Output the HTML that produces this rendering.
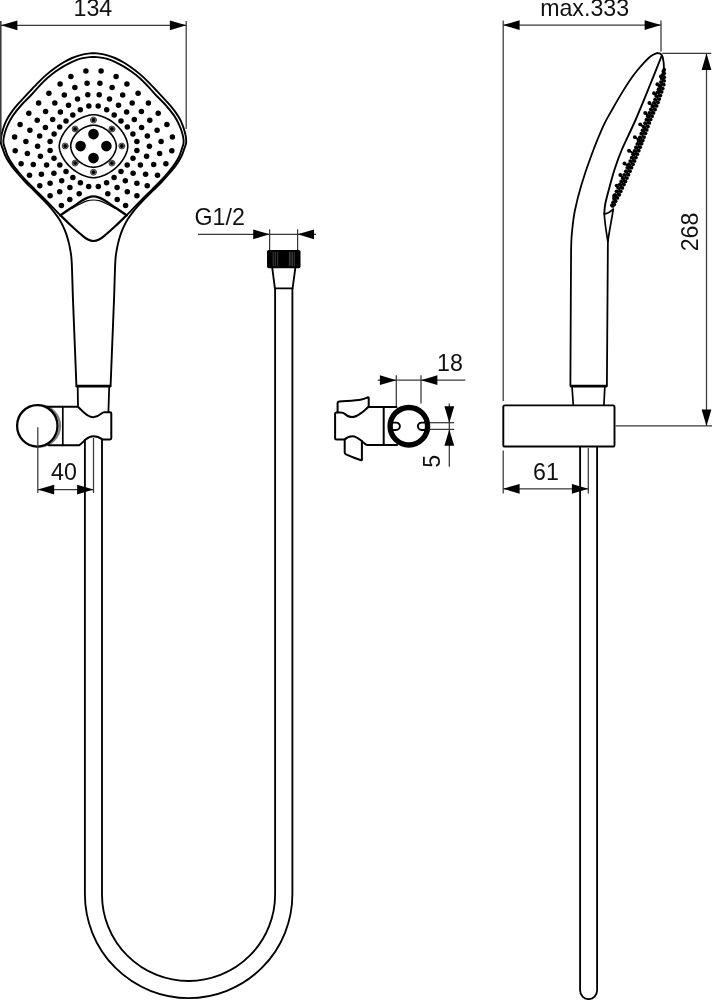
<!DOCTYPE html>
<html lang="en">
<head>
<meta charset="utf-8">
<title>Hand shower set - dimensional drawing</title>
<style>
html,body{margin:0;padding:0;background:#fff;}
body{width:712px;height:1000px;overflow:hidden;}
svg{display:block;will-change:transform;}
text{font-family:"Liberation Sans",Arial,Helvetica,sans-serif;fill:#111;}
</style>
</head>
<body>
<svg width="712" height="1000" viewBox="0 0 712 1000" stroke-linejoin="round" stroke-linecap="round">
<rect width="712" height="1000" fill="#fff"/>
<path d="M76.4,385.5C76.17,379.58 75.57,364.25 75,350C74.43,335.75 73.55,314.67 73,300C72.45,285.33 72.17,270.42 71.7,262C71.23,253.58 70.72,252.83 70.2,249.5C69.68,246.17 69.27,244.6 68.6,242C67.93,239.4 67.13,236.53 66.2,233.9C65.27,231.27 64.15,228.65 63,226.2C61.85,223.75 60.72,221.47 59.3,219.2C57.88,216.93 56.18,214.77 54.5,212.6C52.82,210.43 51.03,208.3 49.2,206.2C47.37,204.1 46.07,202.63 43.5,200C40.93,197.37 36.82,193.4 33.8,190.4C30.77,187.4 28.03,184.82 25.35,182C22.67,179.18 20.07,176.27 17.7,173.5C15.32,170.73 13.08,168.18 11.1,165.4C9.12,162.62 7.2,159.58 5.8,156.8C4.4,154.02 3.51,150.92 2.7,148.7C1.89,146.48 1.26,144.95 0.95,143.5C0.64,142.05 0.78,141.33 0.85,140C0.92,138.67 1.01,137.4 1.4,135.5C1.79,133.6 2.4,131.03 3.2,128.6C4,126.17 4.98,123.4 6.2,120.9C7.42,118.4 8.73,116.18 10.5,113.6C12.27,111.02 14.63,107.97 16.8,105.4C18.97,102.83 21.3,100.57 23.5,98.2C25.7,95.83 27.52,93.83 30,91.2C32.48,88.57 35.6,85.2 38.4,82.4C41.2,79.6 43.98,76.85 46.8,74.4C49.62,71.95 52.48,69.73 55.3,67.7C58.12,65.67 60.9,63.82 63.7,62.2C66.5,60.58 69.3,59.18 72.1,58C74.9,56.82 77.52,55.87 80.5,55.1C83.48,54.33 87.83,53.7 90,53.4C92.17,53.1 92.33,53.3 93.5,53.3C94.67,53.3 94.83,53.1 97,53.4C99.17,53.7 103.52,54.33 106.5,55.1C109.48,55.87 112.1,56.82 114.9,58C117.7,59.18 120.5,60.58 123.3,62.2C126.1,63.82 128.88,65.67 131.7,67.7C134.52,69.73 137.38,71.95 140.2,74.4C143.02,76.85 145.8,79.6 148.6,82.4C151.4,85.2 154.52,88.57 157,91.2C159.48,93.83 161.3,95.83 163.5,98.2C165.7,100.57 168.03,102.83 170.2,105.4C172.37,107.97 174.73,111.02 176.5,113.6C178.27,116.18 179.58,118.4 180.8,120.9C182.02,123.4 183,126.17 183.8,128.6C184.6,131.03 185.21,133.6 185.6,135.5C185.99,137.4 186.07,138.67 186.15,140C186.23,141.33 186.36,142.05 186.05,143.5C185.74,144.95 185.11,146.48 184.3,148.7C183.49,150.92 182.6,154.02 181.2,156.8C179.8,159.58 177.88,162.62 175.9,165.4C173.92,168.18 171.68,170.73 169.3,173.5C166.93,176.27 164.33,179.18 161.65,182C158.97,184.82 156.22,187.4 153.2,190.4C150.17,193.4 146.07,197.37 143.5,200C140.93,202.63 139.63,204.1 137.8,206.2C135.97,208.3 134.18,210.43 132.5,212.6C130.82,214.77 129.12,216.93 127.7,219.2C126.28,221.47 125.15,223.75 124,226.2C122.85,228.65 121.73,231.27 120.8,233.9C119.87,236.53 119.07,239.4 118.4,242C117.73,244.6 117.32,246.17 116.8,249.5C116.28,252.83 115.77,253.58 115.3,262C114.83,270.42 114.55,285.33 114,300C113.45,314.67 112.57,335.75 112,350C111.43,364.25 110.83,379.58 110.6,385.5" fill="none" stroke="#000" stroke-width="1.9" />
<path d="M60.4,215.3C59.08,213.95 55.15,209.92 52.5,207.2C49.85,204.48 47.45,201.97 44.5,199C41.55,196.03 37.81,192.4 34.8,189.4C31.79,186.4 29.1,183.82 26.45,181C23.8,178.18 21.22,175.27 18.9,172.5C16.57,169.73 14.38,167.15 12.5,164.4C10.62,161.65 8.87,158.72 7.6,156C6.33,153.28 5.57,150.1 4.9,148.1C4.23,146.1 3.85,145.35 3.6,144C3.35,142.65 3.2,141.83 3.4,140C3.6,138.17 4.07,135.53 4.8,133C5.53,130.47 6.45,127.7 7.8,124.8C9.15,121.9 10.63,118.9 12.9,115.6C15.17,112.3 18.5,108.27 21.4,105C24.3,101.73 27.42,99.05 30.3,96C33.18,92.95 35.9,89.65 38.7,86.7C41.5,83.75 44.28,80.82 47.1,78.3C49.92,75.78 52.8,73.63 55.6,71.6C58.4,69.57 61.15,67.73 63.9,66.1C66.65,64.47 69.33,63.03 72.1,61.8C74.87,60.57 77.52,59.48 80.5,58.7C83.48,57.92 87.83,57.38 90,57.1C92.17,56.82 92.33,57 93.5,57C94.67,57 94.83,56.82 97,57.1C99.17,57.38 103.52,57.92 106.5,58.7C109.48,59.48 112.13,60.57 114.9,61.8C117.67,63.03 120.35,64.47 123.1,66.1C125.85,67.73 128.6,69.57 131.4,71.6C134.2,73.63 137.08,75.78 139.9,78.3C142.72,80.82 145.5,83.75 148.3,86.7C151.1,89.65 153.82,92.95 156.7,96C159.58,99.05 162.7,101.73 165.6,105C168.5,108.27 171.83,112.3 174.1,115.6C176.37,118.9 177.85,121.9 179.2,124.8C180.55,127.7 181.47,130.47 182.2,133C182.93,135.53 183.4,138.17 183.6,140C183.8,141.83 183.65,142.65 183.4,144C183.15,145.35 182.77,146.1 182.1,148.1C181.43,150.1 180.67,153.28 179.4,156C178.13,158.72 176.38,161.65 174.5,164.4C172.62,167.15 170.42,169.73 168.1,172.5C165.78,175.27 163.2,178.18 160.55,181C157.9,183.82 155.21,186.4 152.2,189.4C149.19,192.4 145.45,196.03 142.5,199C139.55,201.97 137.15,204.48 134.5,207.2C131.85,209.92 127.92,213.95 126.6,215.3" fill="none" stroke="#000" stroke-width="1.9" />
<path d="M60.4,215.3C62.25,214.05 67.8,210.3 71.5,207.8C75.2,205.3 79.88,202 82.6,200.3C85.32,198.6 85.98,198.25 87.8,197.6C89.62,196.95 91.6,196.4 93.5,196.4C95.4,196.4 97.38,196.95 99.2,197.6C101.02,198.25 101.68,198.6 104.4,200.3C107.12,202 111.8,205.3 115.5,207.8C119.2,210.3 124.75,214.05 126.6,215.3" fill="none" stroke="#000" stroke-width="2.4" />
<path d="M72,208.4C73.33,207.67 77.5,205.25 80,204C82.5,202.75 84.75,201.57 87,200.9C89.25,200.23 91.33,200 93.5,200C95.67,200 97.75,200.23 100,200.9C102.25,201.57 104.5,202.75 107,204C109.5,205.25 113.67,207.67 115,208.4" fill="none" stroke="#000" stroke-width="1.1" />
<path d="M60.4,215.3C62.17,217 67.45,222.22 71,225.5C74.55,228.78 78.87,232.65 81.7,235C84.53,237.35 86.03,238.6 88,239.6C89.97,240.6 91.67,241 93.5,241C95.33,241 97.03,240.6 99,239.6C100.97,238.6 102.47,237.35 105.3,235C108.13,232.65 112.45,228.78 116,225.5C119.55,222.22 124.83,217 126.6,215.3" fill="none" stroke="#000" stroke-width="2.2" />
<g fill="#000">
<circle cx="85.9" cy="71.1" r="2.75" fill="#000"/>
<circle cx="101.1" cy="71.1" r="2.75" fill="#000"/>
<circle cx="70.9" cy="76.4" r="2.75" fill="#000"/>
<circle cx="116.1" cy="76.4" r="2.75" fill="#000"/>
<circle cx="60.1" cy="84.1" r="2.75" fill="#000"/>
<circle cx="126.9" cy="84.1" r="2.75" fill="#000"/>
<circle cx="48.9" cy="93.3" r="2.75" fill="#000"/>
<circle cx="138.1" cy="93.3" r="2.75" fill="#000"/>
<circle cx="38.6" cy="103.1" r="2.75" fill="#000"/>
<circle cx="148.4" cy="103.1" r="2.75" fill="#000"/>
<circle cx="28.8" cy="113.2" r="2.75" fill="#000"/>
<circle cx="158.2" cy="113.2" r="2.75" fill="#000"/>
<circle cx="20.1" cy="124.4" r="2.75" fill="#000"/>
<circle cx="166.9" cy="124.4" r="2.75" fill="#000"/>
<circle cx="14.6" cy="137" r="2.75" fill="#000"/>
<circle cx="172.4" cy="137" r="2.75" fill="#000"/>
<circle cx="15.2" cy="150.8" r="2.75" fill="#000"/>
<circle cx="171.8" cy="150.8" r="2.75" fill="#000"/>
<circle cx="21.1" cy="163.7" r="2.75" fill="#000"/>
<circle cx="165.9" cy="163.7" r="2.75" fill="#000"/>
<circle cx="29.5" cy="175.2" r="2.75" fill="#000"/>
<circle cx="157.5" cy="175.2" r="2.75" fill="#000"/>
<circle cx="39.8" cy="185.8" r="2.75" fill="#000"/>
<circle cx="147.2" cy="185.8" r="2.75" fill="#000"/>
<circle cx="50.1" cy="195.7" r="2.75" fill="#000"/>
<circle cx="136.9" cy="195.7" r="2.75" fill="#000"/>
<circle cx="61.4" cy="205.6" r="2.75" fill="#000"/>
<circle cx="125.6" cy="205.6" r="2.75" fill="#000"/>
<circle cx="87.1" cy="83.3" r="2.75" fill="#000"/>
<circle cx="99.9" cy="83.3" r="2.75" fill="#000"/>
<circle cx="74.9" cy="87.6" r="2.75" fill="#000"/>
<circle cx="112.1" cy="87.6" r="2.75" fill="#000"/>
<circle cx="64.3" cy="94.9" r="2.75" fill="#000"/>
<circle cx="122.7" cy="94.9" r="2.75" fill="#000"/>
<circle cx="54.8" cy="102.9" r="2.75" fill="#000"/>
<circle cx="132.2" cy="102.9" r="2.75" fill="#000"/>
<circle cx="45.6" cy="111.4" r="2.75" fill="#000"/>
<circle cx="141.4" cy="111.4" r="2.75" fill="#000"/>
<circle cx="37.2" cy="120.2" r="2.75" fill="#000"/>
<circle cx="149.8" cy="120.2" r="2.75" fill="#000"/>
<circle cx="29.9" cy="130.3" r="2.75" fill="#000"/>
<circle cx="157.1" cy="130.3" r="2.75" fill="#000"/>
<circle cx="25.9" cy="141.5" r="2.75" fill="#000"/>
<circle cx="161.1" cy="141.5" r="2.75" fill="#000"/>
<circle cx="27.4" cy="153.5" r="2.75" fill="#000"/>
<circle cx="159.6" cy="153.5" r="2.75" fill="#000"/>
<circle cx="33.3" cy="164.4" r="2.75" fill="#000"/>
<circle cx="153.7" cy="164.4" r="2.75" fill="#000"/>
<circle cx="41.4" cy="174.3" r="2.75" fill="#000"/>
<circle cx="145.6" cy="174.3" r="2.75" fill="#000"/>
<circle cx="50.1" cy="183.3" r="2.75" fill="#000"/>
<circle cx="136.9" cy="183.3" r="2.75" fill="#000"/>
<circle cx="59.7" cy="191.8" r="2.75" fill="#000"/>
<circle cx="127.3" cy="191.8" r="2.75" fill="#000"/>
<circle cx="69.8" cy="199.4" r="2.75" fill="#000"/>
<circle cx="117.2" cy="199.4" r="2.75" fill="#000"/>
<circle cx="87.8" cy="94.7" r="2.75" fill="#000"/>
<circle cx="99.2" cy="94.7" r="2.75" fill="#000"/>
<circle cx="77.5" cy="98.9" r="2.75" fill="#000"/>
<circle cx="109.5" cy="98.9" r="2.75" fill="#000"/>
<circle cx="68.5" cy="105.2" r="2.75" fill="#000"/>
<circle cx="118.5" cy="105.2" r="2.75" fill="#000"/>
<circle cx="60.4" cy="112.1" r="2.75" fill="#000"/>
<circle cx="126.6" cy="112.1" r="2.75" fill="#000"/>
<circle cx="52.7" cy="119.5" r="2.75" fill="#000"/>
<circle cx="134.3" cy="119.5" r="2.75" fill="#000"/>
<circle cx="45.4" cy="127.5" r="2.75" fill="#000"/>
<circle cx="141.6" cy="127.5" r="2.75" fill="#000"/>
<circle cx="39.7" cy="136.1" r="2.75" fill="#000"/>
<circle cx="147.3" cy="136.1" r="2.75" fill="#000"/>
<circle cx="37.6" cy="146.2" r="2.75" fill="#000"/>
<circle cx="149.4" cy="146.2" r="2.75" fill="#000"/>
<circle cx="40.4" cy="156.3" r="2.75" fill="#000"/>
<circle cx="146.6" cy="156.3" r="2.75" fill="#000"/>
<circle cx="46.6" cy="165.1" r="2.75" fill="#000"/>
<circle cx="140.4" cy="165.1" r="2.75" fill="#000"/>
<circle cx="53.9" cy="173.3" r="2.75" fill="#000"/>
<circle cx="133.1" cy="173.3" r="2.75" fill="#000"/>
<circle cx="61.7" cy="180.7" r="2.75" fill="#000"/>
<circle cx="125.3" cy="180.7" r="2.75" fill="#000"/>
<circle cx="69.9" cy="187.6" r="2.75" fill="#000"/>
<circle cx="117.1" cy="187.6" r="2.75" fill="#000"/>
<circle cx="79.2" cy="193.8" r="2.75" fill="#000"/>
<circle cx="107.8" cy="193.8" r="2.75" fill="#000"/>
<circle cx="88.8" cy="105.9" r="2.75" fill="#000"/>
<circle cx="98.2" cy="105.9" r="2.75" fill="#000"/>
<circle cx="80.3" cy="109.7" r="2.75" fill="#000"/>
<circle cx="106.7" cy="109.7" r="2.75" fill="#000"/>
<circle cx="72.8" cy="114.9" r="2.75" fill="#000"/>
<circle cx="114.2" cy="114.9" r="2.75" fill="#000"/>
<circle cx="66" cy="120.9" r="2.75" fill="#000"/>
<circle cx="121" cy="120.9" r="2.75" fill="#000"/>
<circle cx="59.7" cy="127" r="2.75" fill="#000"/>
<circle cx="127.3" cy="127" r="2.75" fill="#000"/>
<circle cx="54.1" cy="134" r="2.75" fill="#000"/>
<circle cx="132.9" cy="134" r="2.75" fill="#000"/>
<circle cx="50.1" cy="141.6" r="2.75" fill="#000"/>
<circle cx="136.9" cy="141.6" r="2.75" fill="#000"/>
<circle cx="50.1" cy="150.4" r="2.75" fill="#000"/>
<circle cx="136.9" cy="150.4" r="2.75" fill="#000"/>
<circle cx="54" cy="158.2" r="2.75" fill="#000"/>
<circle cx="133" cy="158.2" r="2.75" fill="#000"/>
<circle cx="59.8" cy="165.1" r="2.75" fill="#000"/>
<circle cx="127.2" cy="165.1" r="2.75" fill="#000"/>
<circle cx="66" cy="171.5" r="2.75" fill="#000"/>
<circle cx="121" cy="171.5" r="2.75" fill="#000"/>
<circle cx="72.9" cy="177.6" r="2.75" fill="#000"/>
<circle cx="114.1" cy="177.6" r="2.75" fill="#000"/>
<circle cx="80.4" cy="182.7" r="2.75" fill="#000"/>
<circle cx="106.6" cy="182.7" r="2.75" fill="#000"/>
<circle cx="88.7" cy="186.4" r="2.75" fill="#000"/>
<circle cx="98.3" cy="186.4" r="2.75" fill="#000"/>
</g>
<path d="M127.8,146.2L127.71,147.52L127.46,149.15L127.03,150.91L126.44,152.74L125.69,154.62L124.78,156.51L123.72,158.4L122.52,160.27L121.18,162.1L119.71,163.89L118.12,165.61L116.42,167.25L114.63,168.81L112.76,170.27L110.82,171.62L108.82,172.85L106.78,173.96L104.73,174.93L102.67,175.76L100.62,176.46L98.63,177L96.71,177.39L94.94,177.62L93.5,177.7L92.06,177.62L90.29,177.39L88.37,177L86.38,176.46L84.33,175.76L82.27,174.93L80.22,173.96L78.18,172.85L76.18,171.62L74.24,170.27L72.37,168.81L70.58,167.25L68.88,165.61L67.29,163.89L65.82,162.1L64.48,160.27L63.28,158.4L62.22,156.51L61.31,154.62L60.56,152.74L59.97,150.91L59.54,149.15L59.29,147.52L59.2,146.2L59.29,144.88L59.54,143.25L59.97,141.49L60.56,139.66L61.31,137.78L62.22,135.89L63.28,134L64.48,132.13L65.82,130.3L67.29,128.51L68.88,126.79L70.58,125.15L72.37,123.59L74.24,122.13L76.18,120.78L78.18,119.55L80.22,118.44L82.27,117.47L84.33,116.64L86.38,115.94L88.37,115.4L90.29,115.01L92.06,114.78L93.5,114.7L94.94,114.78L96.71,115.01L98.63,115.4L100.62,115.94L102.67,116.64L104.73,117.47L106.78,118.44L108.82,119.55L110.82,120.78L112.76,122.13L114.63,123.59L116.42,125.15L118.12,126.79L119.71,128.51L121.18,130.3L122.52,132.13L123.72,134L124.78,135.89L125.69,137.78L126.44,139.66L127.03,141.49L127.46,143.25L127.71,144.88Z" fill="none" stroke="#000" stroke-width="1.6" />
<path d="M116.3,146.2L116.25,147.21L116.08,148.39L115.81,149.62L115.44,150.88L114.96,152.15L114.38,153.42L113.7,154.68L112.93,155.92L112.07,157.13L111.13,158.3L110.11,159.42L109.01,160.49L107.85,161.5L106.64,162.44L105.37,163.31L104.05,164.1L102.71,164.81L101.34,165.43L99.96,165.97L98.58,166.41L97.21,166.75L95.87,167L94.6,167.15L93.5,167.2L92.4,167.15L91.13,167L89.79,166.75L88.42,166.41L87.04,165.97L85.66,165.43L84.29,164.81L82.95,164.1L81.63,163.31L80.36,162.44L79.15,161.5L77.99,160.49L76.89,159.42L75.87,158.3L74.93,157.13L74.07,155.92L73.3,154.68L72.62,153.42L72.04,152.15L71.56,150.88L71.19,149.62L70.92,148.39L70.75,147.21L70.7,146.2L70.75,145.19L70.92,144.01L71.19,142.78L71.56,141.52L72.04,140.25L72.62,138.98L73.3,137.72L74.07,136.48L74.93,135.27L75.87,134.1L76.89,132.98L77.99,131.91L79.15,130.9L80.36,129.96L81.63,129.09L82.95,128.3L84.29,127.59L85.66,126.97L87.04,126.43L88.42,125.99L89.79,125.65L91.13,125.4L92.4,125.25L93.5,125.2L94.6,125.25L95.87,125.4L97.21,125.65L98.58,125.99L99.96,126.43L101.34,126.97L102.71,127.59L104.05,128.3L105.37,129.09L106.64,129.96L107.85,130.9L109.01,131.91L110.11,132.98L111.13,134.1L112.07,135.27L112.93,136.48L113.7,137.72L114.38,138.98L114.96,140.25L115.44,141.52L115.81,142.78L116.08,144.01L116.25,145.19Z" fill="none" stroke="#000" stroke-width="1.6" />
<circle cx="93.5" cy="134.1" r="5.3" fill="#000"/>
<circle cx="93.5" cy="158.1" r="5.3" fill="#000"/>
<circle cx="80.6" cy="146.1" r="5.3" fill="#000"/>
<circle cx="106.4" cy="146.1" r="5.3" fill="#000"/>
<circle cx="93.5" cy="120" r="3" fill="#8c8c8c" stroke="#3a3a3a" stroke-width="0.9"/>
<circle cx="93.5" cy="120" r="1.9" fill="#000"/>
<circle cx="93.5" cy="172.2" r="3" fill="#8c8c8c" stroke="#3a3a3a" stroke-width="0.9"/>
<circle cx="93.5" cy="172.2" r="1.9" fill="#000"/>
<circle cx="65.2" cy="146" r="3" fill="#8c8c8c" stroke="#3a3a3a" stroke-width="0.9"/>
<circle cx="65.2" cy="146" r="1.9" fill="#000"/>
<circle cx="121.8" cy="146" r="3" fill="#8c8c8c" stroke="#3a3a3a" stroke-width="0.9"/>
<circle cx="121.8" cy="146" r="1.9" fill="#000"/>
<circle cx="75.1" cy="129" r="3" fill="#8c8c8c" stroke="#3a3a3a" stroke-width="0.9"/>
<circle cx="75.1" cy="129" r="1.9" fill="#000"/>
<circle cx="111.9" cy="129" r="3" fill="#8c8c8c" stroke="#3a3a3a" stroke-width="0.9"/>
<circle cx="111.9" cy="129" r="1.9" fill="#000"/>
<circle cx="75.1" cy="163.1" r="3" fill="#8c8c8c" stroke="#3a3a3a" stroke-width="0.9"/>
<circle cx="75.1" cy="163.1" r="1.9" fill="#000"/>
<circle cx="111.9" cy="163.1" r="3" fill="#8c8c8c" stroke="#3a3a3a" stroke-width="0.9"/>
<circle cx="111.9" cy="163.1" r="1.9" fill="#000"/>
<line x1="76.9" y1="386.2" x2="110" y2="386.2" stroke="#000" stroke-width="2.8"/>
<path d="M77.7,387.5 L78.0,406.7" fill="none" stroke="#000" stroke-width="1.8" />
<path d="M109.2,387.5 L108.4,412.2" fill="none" stroke="#000" stroke-width="1.8" />
<circle cx="39.3" cy="425.8" r="20.7" fill="none" stroke="#808080" stroke-width="2.2"/>
<ellipse cx="37.3" cy="425.8" rx="20.2" ry="20.75" fill="#fff" stroke="#000" stroke-width="2.3"/>
<path d="M47.5,406.7 H78.0 C80.0,408.6 82.0,410.8 84.5,413.0 C87.5,415.6 90.3,417.2 93.4,417.2 C96.5,417.2 98.8,415.6 100.8,414.0 C102.0,413.0 102.8,412.2 104.2,412.2 H110.0 Q111.3,412.2 111.3,413.5 V438.1 Q111.3,439.4 110.0,439.4 H102.4 C99.6,437.2 96.6,436.2 93.4,436.2 C90.0,436.2 87.6,437.8 85.6,439.6 C83.4,441.6 81.5,443.6 79.2,445.3 H48.5" fill="none" stroke="#000" stroke-width="2" />
<line x1="62.8" y1="406.7" x2="62.8" y2="445.3" stroke="#000" stroke-width="1.7"/>
<path d="M84.9,440 V894.35 A103.75,103.75 0 0 0 292.4,894.35 V288.3" fill="none" stroke="#000" stroke-width="1.85" />
<path d="M102.0,440 V894.45 A86.55,86.55 0 0 0 275.1,894.45 V288.3" fill="none" stroke="#000" stroke-width="1.85" />
<rect x="267" y="250" width="33.5" height="18.3" rx="1.8" fill="#000"/>
<line x1="273.2" y1="252.2" x2="273.2" y2="265.8" stroke="#8a8a8a" stroke-width="0.45"/>
<line x1="275.3" y1="252.2" x2="275.3" y2="265.8" stroke="#8a8a8a" stroke-width="0.45"/>
<line x1="277.7" y1="252.2" x2="277.7" y2="265.8" stroke="#8a8a8a" stroke-width="0.45"/>
<line x1="289.4" y1="252.2" x2="289.4" y2="265.8" stroke="#8a8a8a" stroke-width="0.45"/>
<line x1="290.9" y1="252.2" x2="290.9" y2="265.8" stroke="#8a8a8a" stroke-width="0.45"/>
<line x1="292.4" y1="252.2" x2="292.4" y2="265.8" stroke="#8a8a8a" stroke-width="0.45"/>
<line x1="294.3" y1="252.2" x2="294.3" y2="265.8" stroke="#8a8a8a" stroke-width="0.45"/>
<path d="M272.3,268.2 L274.9,288.3 H292.6 L295.3,268.2" fill="none" stroke="#000" stroke-width="1.85" />
<circle cx="408.85" cy="426.2" r="18.75" fill="none" stroke="#000" stroke-width="5.4"/>
<path d="M391.5,422.6 H396.2 A3.7,3.7 0 0 1 396.2,430.0 H391.5" fill="none" stroke="#000" stroke-width="1.9" />
<path d="M426.3,422.6 H421.6 A3.7,3.7 0 0 0 421.6,430.0 H426.3" fill="none" stroke="#000" stroke-width="1.9" />
<line x1="368.6" y1="406.9" x2="396.5" y2="406.9" stroke="#000" stroke-width="2"/>
<line x1="367.5" y1="445.1" x2="397" y2="445.1" stroke="#000" stroke-width="2"/>
<line x1="383.7" y1="406.9" x2="383.7" y2="445.1" stroke="#000" stroke-width="2"/>
<path d="M368.6,406.9 C365.5,409.3 363.5,411.4 361.0,413.1 C355.5,417.4 349.5,418.6 345.0,414.0 C343.5,412.6 342.5,412.4 340.5,412.4 H336.6 Q335.1,412.4 335.1,413.9 V438.0 Q335.1,439.5 336.6,439.5 H344.7 C346.5,437.6 349.5,436.2 352.5,436.2 C356.0,436.2 359.5,439.2 362.0,441.2 C364.0,442.8 365.5,445.1 367.5,445.1" fill="none" stroke="#000" stroke-width="2" />
<path d="M337.6,412.2 V403.4 Q337.6,401.7 339.4,401.5 C347.0,400.8 355.0,400.6 361.5,399.4 C364.5,398.8 366.5,397.8 368.0,397.3 Q368.7,397.2 368.7,398.0 V406.9" fill="none" stroke="#000" stroke-width="2" />
<path d="M344.7,439.5 V452.6 Q344.7,453.8 346.0,454.4 C351.0,456.6 356.0,458.8 361.2,460.2 Q361.9,460.3 361.9,459.4 V441.2" fill="none" stroke="#000" stroke-width="2" />
<path d="M657.4,53.2C656.77,53.42 655.02,53.75 653.6,54.5C652.18,55.25 650.63,56.18 648.9,57.7C647.17,59.22 645.08,61.55 643.2,63.6C641.32,65.65 639.47,67.72 637.6,70C635.73,72.28 634.32,73.98 632,77.3C629.68,80.62 626.95,84.62 623.7,89.9C620.45,95.18 615.85,103.08 612.5,109C609.15,114.92 607.1,117.73 603.6,125.4C600.1,133.07 595.22,145.03 591.5,155C587.78,164.97 584.08,175.87 581.3,185.2C578.52,194.53 576.35,203.2 574.8,211C573.25,218.8 572.62,225.5 572,232C571.38,238.5 571.3,238.67 571.1,250C570.9,261.33 570.92,277.45 570.8,300C570.68,322.55 570.47,371.08 570.4,385.3" fill="none" stroke="#000" stroke-width="1.8" />
<path d="M657.4,53.1 C660.5,53.0 662.2,55.0 662.8,57.5 C663.6,61.0 664.0,64.5 664.0,69.0" fill="none" stroke="#000" stroke-width="1.8" />
<path d="M661.4,56.5C659.5,61.25 654.32,74.42 650,85C645.68,95.58 640.25,109.08 635.5,120C630.75,130.92 625.02,142.17 621.5,150.5C617.98,158.83 616.38,163.95 614.4,170C612.42,176.05 611.12,181.18 609.6,186.8C608.08,192.42 606.18,199.2 605.3,203.7C604.42,208.2 604.47,212.12 604.3,213.8" fill="none" stroke="#000" stroke-width="1.9" />
<path d="M604.4,214.0 Q609.0,213.4 613.0,209.4" fill="none" stroke="#000" stroke-width="1.6" />
<path d="M604.3,213.8 C604.6,222.0 606.3,232.0 607.7,240.8" fill="none" stroke="#000" stroke-width="1.7" />
<path d="M613.3,209.0 C611.8,219.0 609.4,230.0 608.0,240.8" fill="none" stroke="#000" stroke-width="1.7" />
<line x1="607.9" y1="240.6" x2="606.9" y2="385.3" stroke="#000" stroke-width="1.8"/>
<line x1="571.2" y1="386.2" x2="606.2" y2="386.2" stroke="#000" stroke-width="2.7"/>
<line x1="572.1" y1="387.5" x2="573.3" y2="405.2" stroke="#000" stroke-width="1.7"/>
<line x1="604.8" y1="387.5" x2="603.9" y2="405.2" stroke="#000" stroke-width="1.7"/>
<path d="M663.9,69.5C663.62,71.75 663.08,78.75 662.2,83C661.32,87.25 659.8,91.33 658.6,95C657.4,98.67 656.17,102.08 655,105C653.83,107.92 652.73,109.92 651.6,112.5C650.47,115.08 649.63,116.83 648.2,120.5C646.77,124.17 644.87,129.58 643,134.5C641.13,139.42 639.07,144.92 637,150C634.93,155.08 632.77,160 630.6,165C628.43,170 625.93,175.75 624,180C622.07,184.25 620.5,187.17 619,190.5C617.5,193.83 616,197.25 615,200C614,202.75 613.33,205.83 613,207" fill="none" stroke="#000" stroke-width="1.6" stroke-linecap="butt"/>
<g fill="#000">
<circle cx="664.18" cy="69.71" r="1.9" fill="#000"/>
<circle cx="663.36" cy="71.43" r="1.9" fill="#000"/>
<circle cx="664.2" cy="73.36" r="1.9" fill="#000"/>
<circle cx="662.63" cy="75.01" r="1.9" fill="#000"/>
<circle cx="664.19" cy="77.19" r="1.9" fill="#000"/>
<circle cx="661.8" cy="78.72" r="1.9" fill="#000"/>
<circle cx="664.12" cy="80.78" r="1.9" fill="#000"/>
<circle cx="660.88" cy="82.11" r="1.9" fill="#000"/>
<circle cx="663.77" cy="84.7" r="1.9" fill="#000"/>
<circle cx="659.66" cy="85.59" r="1.9" fill="#000"/>
<circle cx="662.72" cy="88.55" r="1.9" fill="#000"/>
<circle cx="658.56" cy="89.18" r="1.9" fill="#000"/>
<circle cx="661.64" cy="91.9" r="1.9" fill="#000"/>
<circle cx="657.47" cy="92.41" r="1.9" fill="#000"/>
<circle cx="660.41" cy="95.59" r="1.9" fill="#000"/>
<circle cx="656.23" cy="96.12" r="1.9" fill="#000"/>
<circle cx="659.22" cy="99.11" r="1.9" fill="#000"/>
<circle cx="655.04" cy="99.56" r="1.9" fill="#000"/>
<circle cx="658.03" cy="102.42" r="1.9" fill="#000"/>
<circle cx="653.84" cy="102.79" r="1.9" fill="#000"/>
<circle cx="656.68" cy="105.93" r="1.9" fill="#000"/>
<circle cx="652.48" cy="106.18" r="1.9" fill="#000"/>
<circle cx="655.09" cy="109.51" r="1.9" fill="#000"/>
<circle cx="650.89" cy="109.51" r="1.9" fill="#000"/>
<circle cx="653.5" cy="112.89" r="1.9" fill="#000"/>
<circle cx="649.3" cy="112.98" r="1.9" fill="#000"/>
<circle cx="652.07" cy="116.14" r="1.9" fill="#000"/>
<circle cx="647.86" cy="116.26" r="1.9" fill="#000"/>
<circle cx="650.66" cy="119.45" r="1.9" fill="#000"/>
<circle cx="646.46" cy="119.69" r="1.9" fill="#000"/>
<circle cx="649.3" cy="122.93" r="1.9" fill="#000"/>
<circle cx="645.11" cy="123.27" r="1.9" fill="#000"/>
<circle cx="647.94" cy="126.6" r="1.9" fill="#000"/>
<circle cx="643.75" cy="126.99" r="1.9" fill="#000"/>
<circle cx="646.73" cy="129.9" r="1.9" fill="#000"/>
<circle cx="642.55" cy="130.29" r="1.9" fill="#000"/>
<circle cx="645.48" cy="133.3" r="1.9" fill="#000"/>
<circle cx="641.29" cy="133.66" r="1.9" fill="#000"/>
<circle cx="644.07" cy="137.04" r="1.9" fill="#000"/>
<circle cx="639.88" cy="137.38" r="1.9" fill="#000"/>
<circle cx="642.75" cy="140.51" r="1.9" fill="#000"/>
<circle cx="638.56" cy="140.84" r="1.9" fill="#000"/>
<circle cx="641.54" cy="143.66" r="1.9" fill="#000"/>
<circle cx="637.35" cy="143.97" r="1.9" fill="#000"/>
<circle cx="640.16" cy="147.21" r="1.9" fill="#000"/>
<circle cx="635.97" cy="147.5" r="1.9" fill="#000"/>
<circle cx="638.76" cy="150.71" r="1.9" fill="#000"/>
<circle cx="634.56" cy="150.95" r="1.9" fill="#000"/>
<circle cx="637.34" cy="154.14" r="1.9" fill="#000"/>
<circle cx="633.14" cy="154.33" r="1.9" fill="#000"/>
<circle cx="635.9" cy="157.53" r="1.9" fill="#000"/>
<circle cx="631.7" cy="157.69" r="1.9" fill="#000"/>
<circle cx="634.45" cy="160.9" r="1.9" fill="#000"/>
<circle cx="630.25" cy="161.04" r="1.9" fill="#000"/>
<circle cx="632.99" cy="164.26" r="1.9" fill="#000"/>
<circle cx="628.79" cy="164.4" r="1.9" fill="#000"/>
<circle cx="631.52" cy="167.66" r="1.9" fill="#000"/>
<circle cx="627.31" cy="167.8" r="1.9" fill="#000"/>
<circle cx="629.98" cy="171.19" r="1.9" fill="#000"/>
<circle cx="625.78" cy="171.32" r="1.9" fill="#000"/>
<circle cx="628.44" cy="174.71" r="1.9" fill="#000"/>
<circle cx="624.24" cy="174.82" r="1.9" fill="#000"/>
<circle cx="626.96" cy="178.06" r="1.9" fill="#000"/>
<circle cx="622.75" cy="178.16" r="1.9" fill="#000"/>
<circle cx="625.44" cy="181.42" r="1.9" fill="#000"/>
<circle cx="621.24" cy="181.47" r="1.9" fill="#000"/>
<circle cx="623.93" cy="184.61" r="1.9" fill="#000"/>
<circle cx="619.73" cy="184.58" r="1.9" fill="#000"/>
<circle cx="622.32" cy="187.91" r="1.9" fill="#000"/>
<circle cx="618.12" cy="187.86" r="1.9" fill="#000"/>
<circle cx="620.73" cy="191.28" r="1.9" fill="#000"/>
<circle cx="616.53" cy="191.36" r="1.9" fill="#000"/>
<circle cx="619.19" cy="194.76" r="1.9" fill="#000"/>
<circle cx="614.98" cy="194.89" r="1.9" fill="#000"/>
<circle cx="617.32" cy="197.89" r="1.9" fill="#000"/>
<circle cx="614.04" cy="198.5" r="1.9" fill="#000"/>
<circle cx="615.61" cy="201.14" r="1.9" fill="#000"/>
<circle cx="613.23" cy="202.23" r="1.9" fill="#000"/>
<circle cx="614.18" cy="204.41" r="1.9" fill="#000"/>
<circle cx="612.76" cy="205.89" r="1.9" fill="#000"/>
</g>
<circle cx="660.9" cy="76.5" r="1.95" fill="#000"/>
<path d="M657.4,84.3 L660.05,87.5" fill="none" stroke="#000" stroke-width="2" />
<circle cx="657.4" cy="84.3" r="1.95" fill="#000"/>
<path d="M654,93.3 L657.1,96.5" fill="none" stroke="#000" stroke-width="2" />
<circle cx="654" cy="93.3" r="1.95" fill="#000"/>
<path d="M649.4,103 L653.5,106.2" fill="none" stroke="#000" stroke-width="2" />
<circle cx="649.4" cy="103" r="1.95" fill="#000"/>
<path d="M645.2,113 L648.97,116.2" fill="none" stroke="#000" stroke-width="2" />
<circle cx="645.2" cy="113" r="1.95" fill="#000"/>
<path d="M640.2,124.4 L644.55,127.6" fill="none" stroke="#000" stroke-width="2" />
<circle cx="640.2" cy="124.4" r="1.95" fill="#000"/>
<path d="M634.8,137.1 L639.8,140.3" fill="none" stroke="#000" stroke-width="2" />
<circle cx="634.8" cy="137.1" r="1.95" fill="#000"/>
<path d="M629,150.7 L634.38,153.9" fill="none" stroke="#000" stroke-width="2" />
<circle cx="629" cy="150.7" r="1.95" fill="#000"/>
<path d="M624.5,163.5 L628.86,166.7" fill="none" stroke="#000" stroke-width="2" />
<circle cx="624.5" cy="163.5" r="1.95" fill="#000"/>
<path d="M620.3,175 L623.81,178.2" fill="none" stroke="#000" stroke-width="2" />
<circle cx="620.3" cy="175" r="1.95" fill="#000"/>
<path d="M616.7,185.6 L618.79,188.8" fill="none" stroke="#000" stroke-width="2" />
<circle cx="616.7" cy="185.6" r="1.95" fill="#000"/>
<circle cx="614" cy="196" r="1.95" fill="#000"/>
<circle cx="612" cy="205.2" r="1.95" fill="#000"/>
<g fill="#777">
<circle cx="660.9" cy="76.5" r="0.6" fill="#000"/>
<circle cx="657.4" cy="84.3" r="0.6" fill="#000"/>
<circle cx="654" cy="93.3" r="0.6" fill="#000"/>
<circle cx="649.4" cy="103" r="0.6" fill="#000"/>
<circle cx="645.2" cy="113" r="0.6" fill="#000"/>
<circle cx="640.2" cy="124.4" r="0.6" fill="#000"/>
<circle cx="634.8" cy="137.1" r="0.6" fill="#000"/>
<circle cx="629" cy="150.7" r="0.6" fill="#000"/>
<circle cx="624.5" cy="163.5" r="0.6" fill="#000"/>
<circle cx="620.3" cy="175" r="0.6" fill="#000"/>
<circle cx="616.7" cy="185.6" r="0.6" fill="#000"/>
<circle cx="614" cy="196" r="0.6" fill="#000"/>
<circle cx="612" cy="205.2" r="0.6" fill="#000"/>
<circle cx="664.99" cy="77.28" r="0.55" fill="#000"/>
<circle cx="661" cy="78.63" r="0.55" fill="#000"/>
<circle cx="664.51" cy="80.84" r="0.55" fill="#000"/>
<circle cx="660.49" cy="82.05" r="0.55" fill="#000"/>
<circle cx="663.77" cy="84.7" r="0.55" fill="#000"/>
<circle cx="659.66" cy="85.59" r="0.55" fill="#000"/>
<circle cx="662.72" cy="88.55" r="0.55" fill="#000"/>
<circle cx="658.56" cy="89.18" r="0.55" fill="#000"/>
<circle cx="661.64" cy="91.9" r="0.55" fill="#000"/>
<circle cx="657.47" cy="92.41" r="0.55" fill="#000"/>
<circle cx="660.41" cy="95.59" r="0.55" fill="#000"/>
<circle cx="656.23" cy="96.12" r="0.55" fill="#000"/>
<circle cx="659.22" cy="99.11" r="0.55" fill="#000"/>
<circle cx="655.04" cy="99.56" r="0.55" fill="#000"/>
<circle cx="658.03" cy="102.42" r="0.55" fill="#000"/>
<circle cx="653.84" cy="102.79" r="0.55" fill="#000"/>
<circle cx="656.68" cy="105.93" r="0.55" fill="#000"/>
<circle cx="652.48" cy="106.18" r="0.55" fill="#000"/>
<circle cx="655.09" cy="109.51" r="0.55" fill="#000"/>
<circle cx="650.89" cy="109.51" r="0.55" fill="#000"/>
<circle cx="653.5" cy="112.89" r="0.55" fill="#000"/>
<circle cx="649.3" cy="112.98" r="0.55" fill="#000"/>
<circle cx="652.07" cy="116.14" r="0.55" fill="#000"/>
<circle cx="647.86" cy="116.26" r="0.55" fill="#000"/>
<circle cx="650.66" cy="119.45" r="0.55" fill="#000"/>
<circle cx="646.46" cy="119.69" r="0.55" fill="#000"/>
<circle cx="649.3" cy="122.93" r="0.55" fill="#000"/>
<circle cx="645.11" cy="123.27" r="0.55" fill="#000"/>
<circle cx="647.94" cy="126.6" r="0.55" fill="#000"/>
<circle cx="643.75" cy="126.99" r="0.55" fill="#000"/>
<circle cx="646.73" cy="129.9" r="0.55" fill="#000"/>
<circle cx="642.55" cy="130.29" r="0.55" fill="#000"/>
<circle cx="645.48" cy="133.3" r="0.55" fill="#000"/>
<circle cx="641.29" cy="133.66" r="0.55" fill="#000"/>
<circle cx="644.07" cy="137.04" r="0.55" fill="#000"/>
<circle cx="639.88" cy="137.38" r="0.55" fill="#000"/>
<circle cx="642.75" cy="140.51" r="0.55" fill="#000"/>
<circle cx="638.56" cy="140.84" r="0.55" fill="#000"/>
<circle cx="641.54" cy="143.66" r="0.55" fill="#000"/>
<circle cx="637.35" cy="143.97" r="0.55" fill="#000"/>
<circle cx="640.16" cy="147.21" r="0.55" fill="#000"/>
<circle cx="635.97" cy="147.5" r="0.55" fill="#000"/>
<circle cx="638.76" cy="150.71" r="0.55" fill="#000"/>
<circle cx="634.56" cy="150.95" r="0.55" fill="#000"/>
<circle cx="637.34" cy="154.14" r="0.55" fill="#000"/>
<circle cx="633.14" cy="154.33" r="0.55" fill="#000"/>
<circle cx="635.9" cy="157.53" r="0.55" fill="#000"/>
<circle cx="631.7" cy="157.69" r="0.55" fill="#000"/>
<circle cx="634.45" cy="160.9" r="0.55" fill="#000"/>
<circle cx="630.25" cy="161.04" r="0.55" fill="#000"/>
<circle cx="632.99" cy="164.26" r="0.55" fill="#000"/>
<circle cx="628.79" cy="164.4" r="0.55" fill="#000"/>
<circle cx="631.52" cy="167.66" r="0.55" fill="#000"/>
<circle cx="627.31" cy="167.8" r="0.55" fill="#000"/>
<circle cx="629.98" cy="171.19" r="0.55" fill="#000"/>
<circle cx="625.78" cy="171.32" r="0.55" fill="#000"/>
<circle cx="628.44" cy="174.71" r="0.55" fill="#000"/>
<circle cx="624.24" cy="174.82" r="0.55" fill="#000"/>
<circle cx="626.96" cy="178.06" r="0.55" fill="#000"/>
<circle cx="622.75" cy="178.16" r="0.55" fill="#000"/>
<circle cx="625.44" cy="181.42" r="0.55" fill="#000"/>
<circle cx="621.24" cy="181.47" r="0.55" fill="#000"/>
<circle cx="623.93" cy="184.61" r="0.55" fill="#000"/>
<circle cx="619.73" cy="184.58" r="0.55" fill="#000"/>
<circle cx="622.32" cy="187.91" r="0.55" fill="#000"/>
<circle cx="618.12" cy="187.86" r="0.55" fill="#000"/>
<circle cx="620.73" cy="191.28" r="0.55" fill="#000"/>
<circle cx="616.53" cy="191.36" r="0.55" fill="#000"/>
<circle cx="619.19" cy="194.76" r="0.55" fill="#000"/>
<circle cx="614.98" cy="194.89" r="0.55" fill="#000"/>
<circle cx="617.78" cy="198.08" r="0.55" fill="#000"/>
<circle cx="613.58" cy="198.31" r="0.55" fill="#000"/>
</g>
<rect x="503.3" y="405.4" width="111.2" height="41.1" rx="1.6" fill="#fff" stroke="#000" stroke-width="1.9"/>
<path d="M580.1,447.5 V990.6 A8.5,8.5 0 0 0 597.1,990.6 V447.5" fill="none" stroke="#000" stroke-width="1.85" />
<g stroke-linecap="butt">
<line x1="0.8" y1="21" x2="0.8" y2="141.5" stroke="#333" stroke-width="1.5"/>
<line x1="186.2" y1="21" x2="186.2" y2="129" stroke="#383838" stroke-width="1.25"/>
<line x1="1" y1="25.3" x2="186.3" y2="25.3" stroke="#383838" stroke-width="1.25"/>
<polygon points="1,25.3 17.4,20.4 17.4,30.2" fill="#000"/>
<polygon points="186.3,25.3 169.9,20.4 169.9,30.2" fill="#000"/>
<line x1="37.8" y1="427.2" x2="37.8" y2="493" stroke="#383838" stroke-width="1.25"/>
<line x1="93.5" y1="438" x2="93.5" y2="493" stroke="#383838" stroke-width="1.25"/>
<line x1="37.8" y1="489.6" x2="93.5" y2="489.6" stroke="#383838" stroke-width="1.25"/>
<polygon points="37.8,489.6 54.2,484.7 54.2,494.5" fill="#000"/>
<polygon points="93.5,489.6 77.1,484.7 77.1,494.5" fill="#000"/>
<line x1="198" y1="234.3" x2="316" y2="234.3" stroke="#383838" stroke-width="1.25"/>
<line x1="269.6" y1="229.3" x2="269.6" y2="250" stroke="#383838" stroke-width="1.25"/>
<line x1="297.6" y1="229.3" x2="297.6" y2="250" stroke="#383838" stroke-width="1.25"/>
<polygon points="269.6,234.3 253.2,229.4 253.2,239.2" fill="#000"/>
<polygon points="297.6,234.3 314,229.4 314,239.2" fill="#000"/>
<line x1="377.7" y1="380.2" x2="396.3" y2="380.2" stroke="#383838" stroke-width="1.25"/>
<line x1="396.3" y1="380.2" x2="465.3" y2="380.2" stroke="#383838" stroke-width="1.25"/>
<line x1="396.3" y1="375.2" x2="396.3" y2="406" stroke="#383838" stroke-width="1.25"/>
<line x1="421" y1="375.2" x2="421" y2="403.6" stroke="#383838" stroke-width="1.25"/>
<polygon points="396.3,380.2 379.9,375.3 379.9,385.1" fill="#000"/>
<polygon points="421,380.2 437.4,375.3 437.4,385.1" fill="#000"/>
<line x1="449.3" y1="403.6" x2="449.3" y2="466.7" stroke="#383838" stroke-width="1.25"/>
<line x1="429.5" y1="422.7" x2="454.2" y2="422.7" stroke="#383838" stroke-width="1.25"/>
<line x1="429.5" y1="429.4" x2="454.2" y2="429.4" stroke="#383838" stroke-width="1.25"/>
<polygon points="449.3,422.7 444.4,406.3 454.2,406.3" fill="#000"/>
<polygon points="449.3,429.4 444.4,445.8 454.2,445.8" fill="#000"/>
<line x1="503.2" y1="20.5" x2="503.2" y2="401" stroke="#383838" stroke-width="1.25"/>
<line x1="503.2" y1="450.5" x2="503.2" y2="493.5" stroke="#383838" stroke-width="1.25"/>
<line x1="661" y1="20.5" x2="661" y2="51.5" stroke="#383838" stroke-width="1.25"/>
<line x1="503.2" y1="25.1" x2="661" y2="25.1" stroke="#383838" stroke-width="1.25"/>
<polygon points="503.2,25.1 519.6,20.2 519.6,30" fill="#000"/>
<polygon points="661,25.1 644.6,20.2 644.6,30" fill="#000"/>
<line x1="662.3" y1="53.4" x2="711.3" y2="53.4" stroke="#383838" stroke-width="1.25"/>
<line x1="615.4" y1="425.9" x2="712" y2="425.9" stroke="#383838" stroke-width="1.25"/>
<line x1="706.5" y1="53.6" x2="706.5" y2="425.9" stroke="#383838" stroke-width="1.25"/>
<polygon points="706.5,53.6 701.6,70 711.4,70" fill="#000"/>
<polygon points="706.5,425.9 701.6,409.5 711.4,409.5" fill="#000"/>
<line x1="588.3" y1="448" x2="588.3" y2="493.5" stroke="#383838" stroke-width="1.25"/>
<line x1="503.2" y1="488.8" x2="588.3" y2="488.8" stroke="#383838" stroke-width="1.25"/>
<polygon points="503.2,488.8 519.6,483.9 519.6,493.7" fill="#000"/>
<polygon points="588.3,488.8 571.9,483.9 571.9,493.7" fill="#000"/>
</g>
<text transform="translate(92.9,16)" font-size="23.2" text-anchor="middle">134</text>
<text transform="translate(64,479.6)" font-size="23.2" text-anchor="middle">40</text>
<text transform="translate(219.7,224.6)" font-size="23.2" text-anchor="middle">G1/2</text>
<text transform="translate(450,370.6)" font-size="23.2" text-anchor="middle">18</text>
<text transform="translate(440.3,461.3) rotate(-90) scale(1,1.05)" font-size="23.2" text-anchor="middle">5</text>
<text transform="translate(584.6,15.9)" font-size="23.2" text-anchor="middle">max.333</text>
<text transform="translate(697.8,232) rotate(-90) scale(1,1.05)" font-size="23.2" text-anchor="middle">268</text>
<text transform="translate(546,480.1)" font-size="23.2" text-anchor="middle">61</text>
</svg>
</body>
</html>
